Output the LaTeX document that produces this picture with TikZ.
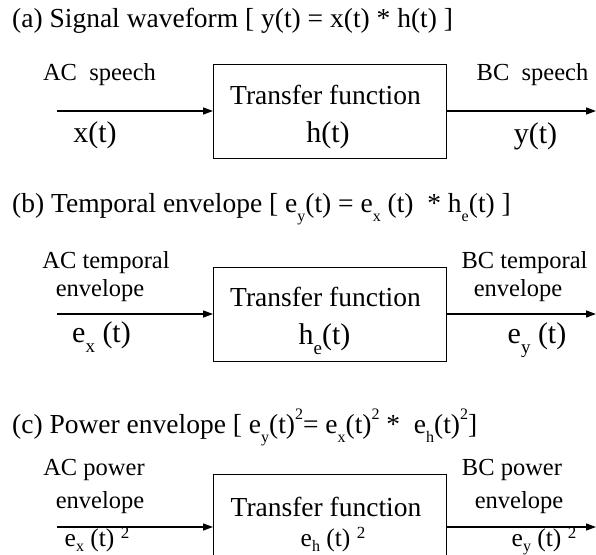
\documentclass[tikz,border=0pt]{standalone}
\usepackage{fontspec}
\setmainfont{Liberation Serif}
\usetikzlibrary{arrows.meta}
\newcommand\lsub[3][16]{\raisebox{-#2}{\fontsize{#1}{#1}\selectfont #3}}
\newcommand\lsup[3][16]{\raisebox{#2}{\fontsize{#1}{#1}\selectfont #3}}
\begin{document}
\begin{tikzpicture}[x=1pt,y=-1pt,
  tbox/.style={draw, line width=1.3pt, minimum width=233pt, minimum height=94pt, inner sep=0pt, anchor=north west},
  ttl/.style={anchor=base west, inner sep=0pt, font=\fontsize{27.5}{30}\selectfont},
  lbl/.style={anchor=base, inner sep=0pt, font=\fontsize{24.5}{29}\selectfont},
  sig/.style={anchor=base, inner sep=0pt, font=\fontsize{30}{33}\selectfont},
  sigc/.style={anchor=base, inner sep=0pt, font=\fontsize{25.5}{28}\selectfont},
  tf/.style={anchor=base, inner sep=0pt, font=\fontsize{27.5}{30}\selectfont},
  flow/.style={line width=1.3pt, -{Triangle[length=10pt,width=7pt]}}]
\useasboundingbox (0,0) rectangle (596,554);
\clip (0,0) rectangle (596,554);

% (a)
\node[ttl] (ta) at (12,27) {(a) Signal waveform [ y(t) = x(t) * h(t) ]};
\node[tbox] (ba) at (213,64) {};
\node[tf] (tfa) at (325.5,104) {Transfer function};
\node[sig] (ha) at (328,142) {h(t)};
\node[lbl] (aca) at (99.5,80) {AC~~speech};
\node[lbl] (bca) at (532.5,80) {BC~~speech};
\node[sig] (xa) at (95,142) {x(t)};
\node[sig] (ya) at (535.5,143) {y(t)};
\coordinate (ina) at (57,111);
\coordinate (outa) at (596,111);
\draw[flow] (ina) -- (ina -| ba.west);
\draw[flow] (outa -| ba.east) -- (outa);

% (b)
\node[ttl] (tb) at (12,212) {(b) Temporal envelope [ e\lsub{0.34em}{y}(t) = e\lsub{0.34em}{x} (t)~ * h\lsub{0.34em}{e}(t) ]};
\node[tbox] (bb) at (213,267) {};
\node[tf] (tfb) at (325.5,306) {Transfer function};
\node[sig] (hb) at (324.5,344) {h\lsub[19]{0.34em}{e}(t)};
\node[lbl] (acb1) at (106,268) {AC temporal};
\node[lbl] (acb2) at (100,296) {envelope};
\node[lbl] (bcb1) at (524.5,268) {BC temporal};
\node[lbl] (bcb2) at (518,296) {envelope};
\node[sig] (xb) at (101.5,342) {e\lsub[19]{0.34em}{x} (t)};
\node[sig] (yb) at (537,343) {e\lsub[19]{0.34em}{y} (t)};
\coordinate (inb) at (57,314);
\coordinate (outb) at (596,314);
\draw[flow] (inb) -- (inb -| bb.west);
\draw[flow] (outb -| bb.east) -- (outb);

% (c)
\node[ttl] (tc) at (12,433) {(c) Power envelope [ e\lsub{0.34em}{y}(t)\lsup{0.5em}{2}= e\lsub{0.34em}{x}(t)\lsup{0.5em}{2} *~ e\lsub{0.34em}{h}(t)\lsup{0.5em}{2}]};
\node[tbox] (bc) at (213,474) {};
\node[tf] (tfc) at (326,516) {Transfer function};
\node[sigc] (hc) at (333,546) {e\lsub[16]{0.2em}{h} (t)\hspace{0.25em}\lsup[17]{0.3em}{2}};
\node[lbl] (acc1) at (94,475) {AC power};
\node[lbl] (acc2) at (100,508) {envelope};
\node[lbl] (bcc1) at (512,475) {BC power};
\node[lbl] (bcc2) at (519,508) {envelope};
\node[sigc] (xc) at (97,546) {e\lsub[16]{0.2em}{x} (t)\hspace{0.25em}\lsup[17]{0.3em}{2}};
\node[sigc] (yc) at (544,546) {e\lsub[16]{0.2em}{y} (t)\hspace{0.25em}\lsup[17]{0.3em}{2}};
\coordinate (inc) at (57,527);
\coordinate (outc) at (596,527);
\draw[flow] (inc) -- (inc -| bc.west);
\draw[flow] (outc -| bc.east) -- (outc);
\end{tikzpicture}
\end{document}
